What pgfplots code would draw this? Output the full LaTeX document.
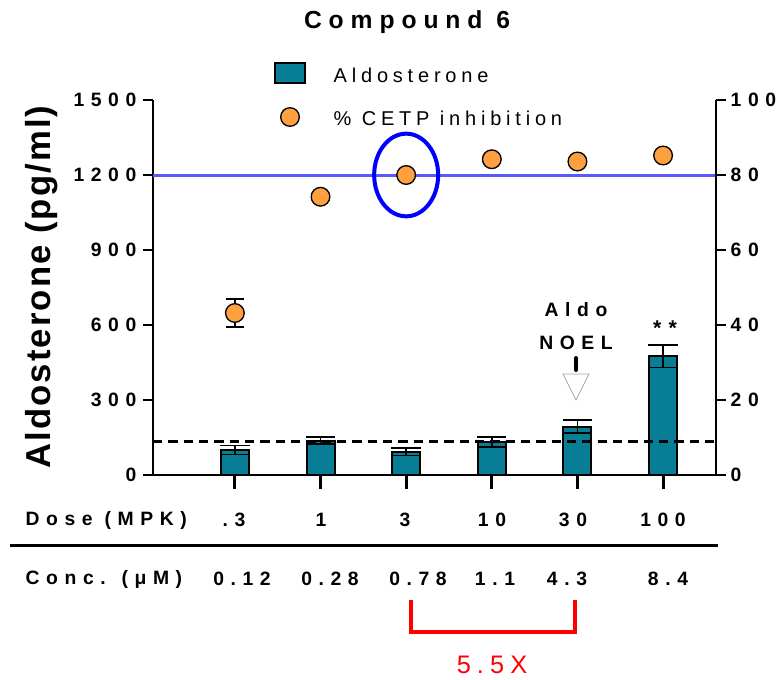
\documentclass[border=0pt]{standalone}
\usepackage{fontspec}
\setmainfont{Liberation Sans}
\newfontfamily\spc[LetterSpace=34]{Liberation Sans}
\newfontfamily\tts[LetterSpace=28]{Liberation Sans}
\newfontfamily\lgs[LetterSpace=24]{Liberation Sans}
\newfontfamily\ylab[LetterSpace=6]{Liberation Sans}
\usepackage{pgfplots}
\pgfplotsset{compat=1.18}

\definecolor{barteal}{RGB}{8,126,150}
\definecolor{dotorange}{RGB}{255,160,64}
\definecolor{refblue}{RGB}{88,88,255}

\newcommand\tickfont{\spc\bfseries\fontsize{14.5}{17}\selectfont}
\newcommand\lgfont{\lgs\fontsize{15}{18}\selectfont}

\pgfplotsset{
  base/.style={
    scale only axis, width=422.25pt, height=281.25pt,
    xmin=0.044, xmax=6.618,
    axis line style={line width=1.5pt,-},
    /pgf/number format/assume math mode=true,
    /pgf/number format/1000 sep={},
    tick align=outside, major tick length=7.5pt,
    tick style={line width=1.5pt, black},
    ticklabel style={font=\tickfont},
    clip=false,
  }
}

\begin{document}
\begin{tikzpicture}
% aldosterone bars, left axis
\begin{axis}[base, ymin=0, ymax=1500, ytick={0,300,...,1500},
    axis y line*=left, axis x line*=bottom, xtick=\empty,
    yticklabel style={xshift=-1.5pt}]
  \addplot[ybar, bar width=21pt, fill=barteal, draw=black, line width=1.5pt,
    error bars/.cd, y dir=both, y explicit,
    error bar style={line width=1.2pt, black},
    error mark options={rotate=90, mark size=11pt, line width=1.2pt, black}]
    coordinates {(1,100) +- (0,18) (2,138) +- (0,15) (3,93) +- (0,15)
                 (4,133) +- (0,20) (5,194) +- (0,25) (6,475) +- (0,45)};
  \addplot[black, line width=2.25pt, dash pattern=on 7pt off 4.5pt]
    coordinates {(0.044,135) (6.618,135)};
  \addplot[refblue, line width=2.25pt] coordinates {(0.044,1200) (6.618,1200)};
  \draw[blue, line width=3pt] (axis cs:3,1200) ellipse [x radius=24pt, y radius=31pt];
\end{axis}
% % CETP inhibition, right axis
\begin{axis}[base, ymin=0, ymax=100, ytick={0,20,...,100},
    axis y line*=right, axis x line=none]
  \addplot[black, only marks, mark=none,
    error bars/.cd, y dir=both, y explicit,
    error bar style={line width=1.2pt, black},
    error mark options={rotate=90, mark size=7pt, line width=1.2pt, black}]
    coordinates {(1,43.2) +- (0,3.8)};
  \addplot[only marks, mark=*, mark size=7pt,
    mark options={fill=dotorange, draw=black, line width=1pt}]
    coordinates {(1,43.2) (2,74.2) (3,80) (4,84.2) (5,83.6) (6,85.2)};
\end{axis}
% dose tick marks
\begin{axis}[base, ymin=0, ymax=1, hide y axis, axis x line*=bottom,
    xtick={1,...,6}, xticklabels={}, major tick length=10.5pt,
    xtick style={line width=2.2pt, black}]
\end{axis}
% text and annotations, in pixel units of the reference
\begin{scope}[x=0.75pt, y=-0.75pt, shift={(-114.75pt,356.25pt)}]
  \node[font=\tts\bfseries\fontsize{18.5}{22}\selectfont] at (407,22) {Compound 6};
  \node[rotate=90, font=\ylab\bfseries\fontsize{26}{30}\selectfont] at (42,287) {Aldosterone (pg/ml)};
  % legend
  \filldraw[fill=barteal, draw=black, line width=1pt] (275,63) rectangle (305,83);
  \filldraw[fill=dotorange, draw=black, line width=1pt] (290,117) circle [radius=9.3];
  \node[anchor=west, font=\lgfont] at (329,75) {Aldosterone};
  \node[anchor=west, font=\lgfont] at (329,118) {\% CETP inhibition};
  % NOEL marker
  \node[font=\tickfont] at (576,310) {Aldo};
  \node[font=\tickfont] at (576,343) {NOEL};
  \draw[line width=3pt, line cap=round] (576,358) -- (576,370);
  \draw[gray!70, line width=0.6pt, fill=white] (563,374) -- (589,374) -- (576,400) -- cycle;
  \node[font=\spc\bfseries\fontsize{16}{18}\selectfont] at (665,328) {**};
  % dose / concentration table
  \node[anchor=west, font=\tickfont] at (21,520) {Dose (MPK)};
  \foreach \x/\t in {234/.3, 321/1, 405/3, 492/10, 573/30, 663/100}
    \node[font=\tickfont] at (\x,520) {\t};
  \draw[line width=2.25pt] (10,545) -- (718,545);
  \node[anchor=west, font=\tickfont] at (21,579) {Conc. (μM)};
  \foreach \x/\t in {242/0.12, 330/0.28, 418/0.78, 495/1.1, 567/4.3, 668/8.4}
    \node[font=\tickfont] at (\x,579) {\t};
  \draw[red, line width=3pt] (411,600) -- (411,632) -- (575,632) -- (575,600);
  \node[red, font=\lgs\fontsize{19}{22}\selectfont] at (492,665) {5.5X};
  \pgfresetboundingbox
  \useasboundingbox (0,0) rectangle (784,679);
\end{scope}
\end{tikzpicture}
\end{document}
